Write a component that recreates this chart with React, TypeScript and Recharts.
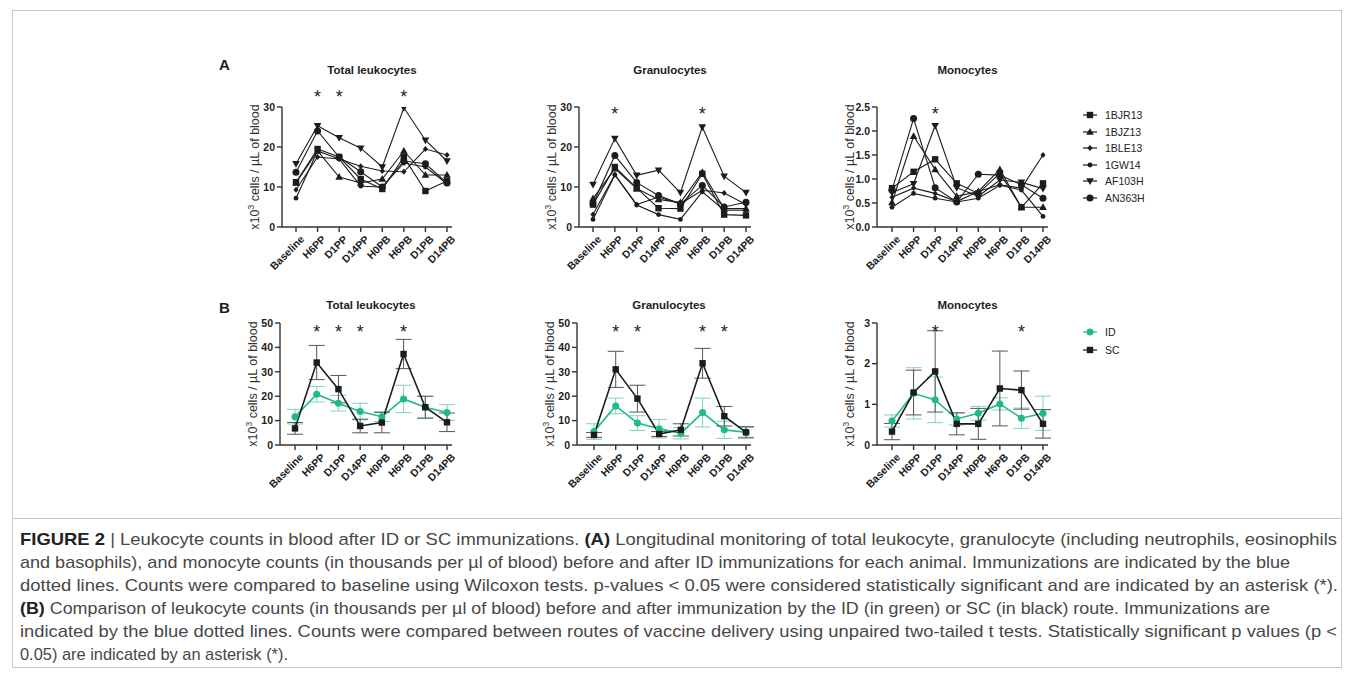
import React from 'react';
import { LineChart, Line, XAxis, YAxis, ErrorBar, ReferenceDot } from 'recharts';

const timepoints = ['Baseline', 'H6PP', 'D1PP', 'D14PP', 'H0PB', 'H6PB', 'D1PB', 'D14PB'];
const animals = ['1BJR13', '1BJZ13', '1BLE13', '1GW14', 'AF103H', 'AN363H'];
const animalShapes = ['square', 'up', 'diamond', 'dot', 'down', 'circle'];

// panel A: one row per animal, same order as `animals`
const totalA = [
  [11.2, 19.5, 17.5, 12.0, 9.5, 17.5, 9.0, 11.5],
  [11.0, 19.0, 12.5, 11.0, 12.0, 19.0, 13.0, 13.0],
  [9.3, 17.5, 17.0, 15.2, 14.0, 13.8, 19.5, 18.0],
  [7.2, 19.0, 17.0, 10.2, 10.0, 16.0, 15.0, 10.8],
  [15.8, 25.3, 22.3, 19.7, 15.0, 29.8, 21.7, 16.5],
  [13.7, 24.0, 17.5, 13.8, 10.0, 16.5, 15.8, 11.0],
];
const granA = [
  [5.6, 15.0, 9.7, 4.7, 4.6, 13.3, 3.1, 2.9],
  [7.1, 14.6, 9.6, 6.9, 6.1, 13.7, 4.6, 4.6],
  [3.1, 13.1, 5.6, 7.5, 5.8, 9.2, 8.5, 5.6],
  [1.9, 13.0, 5.5, 3.1, 1.9, 8.8, 4.2, 4.2],
  [10.6, 22.1, 12.9, 14.2, 8.6, 25.0, 12.7, 8.6],
  [5.8, 17.9, 11.1, 7.9, 5.8, 10.4, 5.0, 6.2],
];
const monoA = [
  [0.81, 1.15, 1.41, 0.91, 0.7, 1.12, 0.41, 0.91],
  [0.51, 1.89, 1.2, 0.64, 0.74, 1.2, 0.41, 0.41],
  [0.62, 0.81, 0.7, 0.53, 0.74, 0.88, 0.81, 1.5],
  [0.41, 0.7, 0.6, 0.52, 0.6, 0.87, 0.77, 0.22],
  [0.72, 0.9, 2.11, 0.82, 0.64, 0.98, 0.93, 0.8],
  [0.77, 2.26, 0.82, 0.52, 1.1, 1.08, 0.88, 0.6],
];

// panel B: mean and error per route
const totalID = [11.6, 20.8, 17.1, 13.7, 11.6, 18.9, 15.5, 13.3];
const totalIDErr = [3.0, 3.2, 3.2, 3.4, 2.0, 5.6, 4.4, 3.2];
const totalSC = [6.8, 33.8, 22.9, 7.8, 9.2, 37.3, 15.5, 9.3];
const totalSCErr = [2.4, 7.0, 5.6, 2.8, 4.2, 6.0, 4.5, 3.8];
const granID = [5.5, 16.0, 9.0, 6.7, 4.8, 13.3, 6.2, 5.2];
const granIDErr = [3.2, 3.2, 3.0, 3.8, 2.3, 5.9, 3.5, 2.0];
const granSC = [4.1, 31.0, 19.0, 4.5, 6.2, 33.5, 11.8, 5.2];
const granSCErr = [1.0, 7.4, 5.5, 1.0, 2.5, 6.1, 4.0, 2.3];
const monoID = [0.59, 1.27, 1.11, 0.64, 0.78, 1.01, 0.66, 0.78];
const monoIDErr = [0.15, 0.63, 0.56, 0.15, 0.17, 0.15, 0.25, 0.42];
const monoSC = [0.33, 1.29, 1.81, 0.52, 0.52, 1.39, 1.35, 0.52];
const monoSCErr = [0.2, 0.55, 1.0, 0.27, 0.38, 0.92, 0.47, 0.35];

const starsTotalA = ['H6PP', 'D1PP', 'H6PB'];
const starsGranA = ['H6PP', 'H6PB'];
const starsMonoA = ['D1PP'];
const starsTotalB = ['H6PP', 'D1PP', 'D14PP', 'H6PB'];
const starsGranB = ['H6PP', 'D1PP', 'H6PB', 'D1PB'];
const starsMonoB = ['D1PP', 'D1PB'];

const FONT = '"Liberation Sans", Arial, sans-serif';
const GREEN = '#1fba8a';
const GREEN_ERR = '#7fd4b6';
const INK = '#1c1c1c';

const animalRows = (vals: number[][]) =>
  timepoints.map((t, i) => {
    const row: any = { t };
    vals.forEach((v, k) => (row['a' + k] = v[i]));
    return row;
  });

const routeRows = (id: number[], idErr: number[], sc: number[], scErr: number[]) =>
  timepoints.map((t, i) => ({ t, id: id[i], idErr: idErr[i], sc: sc[i], scErr: scErr[i] }));

const Marker = ({ shape, cx, cy, color }: any) => {
  if (cx == null || cy == null) return <g />;
  switch (shape) {
    case 'square':
      return <rect x={cx - 3.2} y={cy - 3.2} width={6.4} height={6.4} fill={color} />;
    case 'up':
      return <path d={`M${cx},${cy - 4}L${cx + 3.8},${cy + 2.8}L${cx - 3.8},${cy + 2.8}Z`} fill={color} />;
    case 'down':
      return <path d={`M${cx},${cy + 4}L${cx + 3.8},${cy - 2.8}L${cx - 3.8},${cy - 2.8}Z`} fill={color} />;
    case 'diamond':
      return <path d={`M${cx},${cy - 3}L${cx + 2.6},${cy}L${cx},${cy + 3}L${cx - 2.6},${cy}Z`} fill={color} />;
    case 'dot':
      return <circle cx={cx} cy={cy} r={2.4} fill={color} />;
    default:
      return <circle cx={cx} cy={cy} r={3.5} fill={color} />;
  }
};

const RotTick = (p: any) => (
  <g transform={`translate(${p.x + 4},${p.y + 1})`}>
    <text transform="rotate(-45)" textAnchor="end" dy={7} fontSize={10.5} fontWeight={700} fill={INK} fontFamily={FONT}>
      {p.payload.value}
    </text>
  </g>
);

const AxisTitle = ({ cx, cy }: any) => (
  <text transform={`translate(${cx},${cy}) rotate(-90)`} textAnchor="middle" fontSize={12.5} fill="#333" fontFamily={FONT}>
    x10<tspan dy={-5} fontSize={8.5}>3</tspan>
    <tspan dy={5}> cells / µL of blood</tspan>
  </text>
);

const Star = (p: any) => (
  <text x={p.cx} y={p.cy + 10} textAnchor="middle" fontSize={18} fill={INK} fontFamily={FONT}>
    *
  </text>
);

type PanelProps = {
  axisX: number;
  plotTop: number;
  plotW: number;
  plotH: number;
  padL: number;
  padR: number;
  rows: any[];
  children: React.ReactNode;
  max: number;
  ticks: number[];
  decimals: number;
  stars: string[];
  starValue: number;
  title: string;
  titleTop: number;
};

function Panel(props: PanelProps) {
  const { axisX, plotTop, plotW, plotH, padL, padR, rows, max, ticks, decimals, stars, starValue, title, titleTop } = props;
  const W = 60 + plotW + 10;
  const H = 40 + plotH + 50;
  return (
    <>
      <div
        style={{
          position: 'absolute',
          left: axisX + plotW / 2 + 5,
          top: titleTop,
          transform: 'translate(-50%, -50%)',
          fontFamily: FONT,
          fontWeight: 700,
          fontSize: 11.5,
          color: INK,
          whiteSpace: 'nowrap',
        }}
      >
        {title}
      </div>
      <div style={{ position: 'absolute', left: axisX - 60, top: plotTop - 40 }}>
        <LineChart width={W} height={H} data={rows} margin={{ top: 40, right: 10, bottom: 0, left: 0 }}>
          <XAxis
            dataKey="t"
            scale="point"
            padding={{ left: padL, right: padR }}
            height={50}
            interval={0}
            tick={<RotTick />}
            tickSize={5}
            stroke="#333"
            strokeWidth={1.4}
          />
          <YAxis
            width={60}
            domain={[0, max]}
            ticks={ticks}
            allowDataOverflow
            tickFormatter={(v: number) => v.toFixed(decimals)}
            tick={{ fontSize: 10.5, fontWeight: 700, fill: INK, fontFamily: FONT }}
            tickSize={5}
            stroke="#333"
            strokeWidth={1.4}
            label={<AxisTitle cx={37} cy={40 + plotH / 2} />}
          />
          {props.children}
          {stars.map((s) => (
            <ReferenceDot key={s} x={s} y={starValue} r={1} ifOverflow="visible" shape={<Star />} />
          ))}
        </LineChart>
      </div>
    </>
  );
}

const animalLines = () =>
  animals.map((a, k) => (
    <Line
      key={a}
      dataKey={'a' + k}
      name={a}
      stroke={INK}
      strokeWidth={1.1}
      isAnimationActive={false}
      dot={(p: any) => <Marker key={a + p.index} shape={animalShapes[k]} cx={p.cx} cy={p.cy} color={INK} />}
      activeDot={false}
    />
  ));

const routeLines = () => [
  <Line
    key="id"
    dataKey="id"
    name="ID"
    stroke={GREEN}
    strokeWidth={1.6}
    isAnimationActive={false}
    dot={(p: any) => <Marker key={'id' + p.index} shape="circle" cx={p.cx} cy={p.cy} color={GREEN} />}
    activeDot={false}
  >
    <ErrorBar dataKey="idErr" width={8} stroke={GREEN_ERR} strokeWidth={1} direction="y" />
  </Line>,
  <Line
    key="sc"
    dataKey="sc"
    name="SC"
    stroke={INK}
    strokeWidth={1.6}
    isAnimationActive={false}
    dot={(p: any) => <Marker key={'sc' + p.index} shape="square" cx={p.cx} cy={p.cy} color={INK} />}
    activeDot={false}
  >
    <ErrorBar dataKey="scErr" width={8} stroke="#555" strokeWidth={1} direction="y" />
  </Line>,
];

const LegendRow = ({ top, label, shape, color }: any) => (
  <div style={{ position: 'absolute', left: 1082, top: top - 8, height: 16, display: 'flex', alignItems: 'center' }}>
    <svg width={16} height={16}>
      <line x1={1} y1={8} x2={15} y2={8} stroke={color} strokeWidth={1.2} />
      <Marker shape={shape} cx={8} cy={8} color={color} />
    </svg>
    <span style={{ marginLeft: 7, fontFamily: FONT, fontSize: 10.5, color: '#222' }}>{label}</span>
  </div>
);

const captionLines = [
  { y: 24.5, len: 1317, parts: [['FIGURE 2', true], [' | Leukocyte counts in blood after ID or SC immunizations. ', false], ['(A)', true], [' Longitudinal monitoring of total leukocyte, granulocyte (including neutrophils, eosinophils', false]] },
  { y: 47.5, len: 1270, parts: [['and basophils), and monocyte counts (in thousands per µl of blood) before and after ID immunizations for each animal. Immunizations are indicated by the blue', false]] },
  { y: 70.5, len: 1318, parts: [['dotted lines. Counts were compared to baseline using Wilcoxon tests. p-values < 0.05 were considered statistically significant and are indicated by an asterisk (*).', false]] },
  { y: 93.5, len: 1250, parts: [['(B)', true], [' Comparison of leukocyte counts (in thousands per µl of blood) before and after immunization by the ID (in green) or SC (in black) route. Immunizations are', false]] },
  { y: 116.5, len: 1317, parts: [['indicated by the blue dotted lines. Counts were compared between routes of vaccine delivery using unpaired two-tailed t tests. Statistically significant p values (p <', false]] },
  { y: 139.5, len: 268, parts: [['0.05) are indicated by an asterisk (*).', false]] },
];

export default function App() {
  const rowA = { plotTop: 107, plotH: 120, titleTop: 70 };
  const rowB = { plotTop: 323, plotH: 122, titleTop: 305 };
  return (
    <div style={{ position: 'absolute', left: 0, top: 0, width: 1354, height: 674, background: '#fff', overflow: 'hidden' }}>
      <div style={{ position: 'absolute', left: 12, top: 10, width: 1330, height: 658, border: '1px solid #c9c9c9', boxSizing: 'border-box' }} />
      <div style={{ position: 'absolute', left: 12, top: 518, width: 1330, height: 1, background: '#c9c9c9' }} />

      <div style={{ position: 'absolute', left: 219, top: 56, fontFamily: FONT, fontWeight: 700, fontSize: 15, color: INK }}>A</div>
      <div style={{ position: 'absolute', left: 219, top: 299, fontFamily: FONT, fontWeight: 700, fontSize: 15, color: INK }}>B</div>

      <Panel axisX={282} plotW={170} padL={14} padR={5} {...rowA} rows={animalRows(totalA)} max={30} ticks={[0, 10, 20, 30]} decimals={0} stars={starsTotalA} starValue={33.5} title="Total leukocytes">
        {animalLines()}
      </Panel>
      <Panel axisX={579} plotW={172} padL={14} padR={5} {...rowA} rows={animalRows(granA)} max={30} ticks={[0, 10, 20, 30]} decimals={0} stars={starsGranA} starValue={29.2} title="Granulocytes">
        {animalLines()}
      </Panel>
      <Panel axisX={877} plotW={171} padL={15} padR={5} {...rowA} rows={animalRows(monoA)} max={2.5} ticks={[0, 0.5, 1, 1.5, 2, 2.5]} decimals={1} stars={starsMonoA} starValue={2.44} title="Monocytes">
        {animalLines()}
      </Panel>

      <Panel axisX={280} plotW={172} padL={15} padR={5} {...rowB} rows={routeRows(totalID, totalIDErr, totalSC, totalSCErr)} max={50} ticks={[0, 10, 20, 30, 40, 50]} decimals={0} stars={starsTotalB} starValue={48} title="Total leukocytes">
        {routeLines()}
      </Panel>
      <Panel axisX={577} plotW={174} padL={17} padR={5} {...rowB} rows={routeRows(granID, granIDErr, granSC, granSCErr)} max={50} ticks={[0, 10, 20, 30, 40, 50]} decimals={0} stars={starsGranB} starValue={48} title="Granulocytes">
        {routeLines()}
      </Panel>
      <Panel axisX={877} plotW={171} padL={15} padR={5} {...rowB} rows={routeRows(monoID, monoIDErr, monoSC, monoSCErr)} max={3} ticks={[0, 1, 2, 3]} decimals={0} stars={starsMonoB} starValue={2.88} title="Monocytes">
        {routeLines()}
      </Panel>

      {animals.map((a, k) => (
        <LegendRow key={a} top={115 + k * 16.6} label={a} shape={animalShapes[k]} color={INK} />
      ))}
      <LegendRow top={332} label="ID" shape="circle" color={GREEN} />
      <LegendRow top={350} label="SC" shape="square" color={INK} />

      <svg style={{ position: 'absolute', left: 0, top: 520 }} width={1354} height={154}>
        {captionLines.map((l, i) => (
          <text
            key={i}
            x={20}
            y={l.y}
            textLength={l.len}
            lengthAdjust="spacingAndGlyphs"
            fontSize={17}
            fill="#474747"
            fontFamily='"Liberation Sans Narrow", "Liberation Sans", Arial, sans-serif'
            xmlSpace="preserve"
          >
            {l.parts.map((p, j) => (
              <tspan key={j} fontWeight={p[1] ? 700 : 400} fill={p[1] ? '#222' : '#474747'}>
                {p[0] as string}
              </tspan>
            ))}
          </text>
        ))}
      </svg>
    </div>
  );
}
